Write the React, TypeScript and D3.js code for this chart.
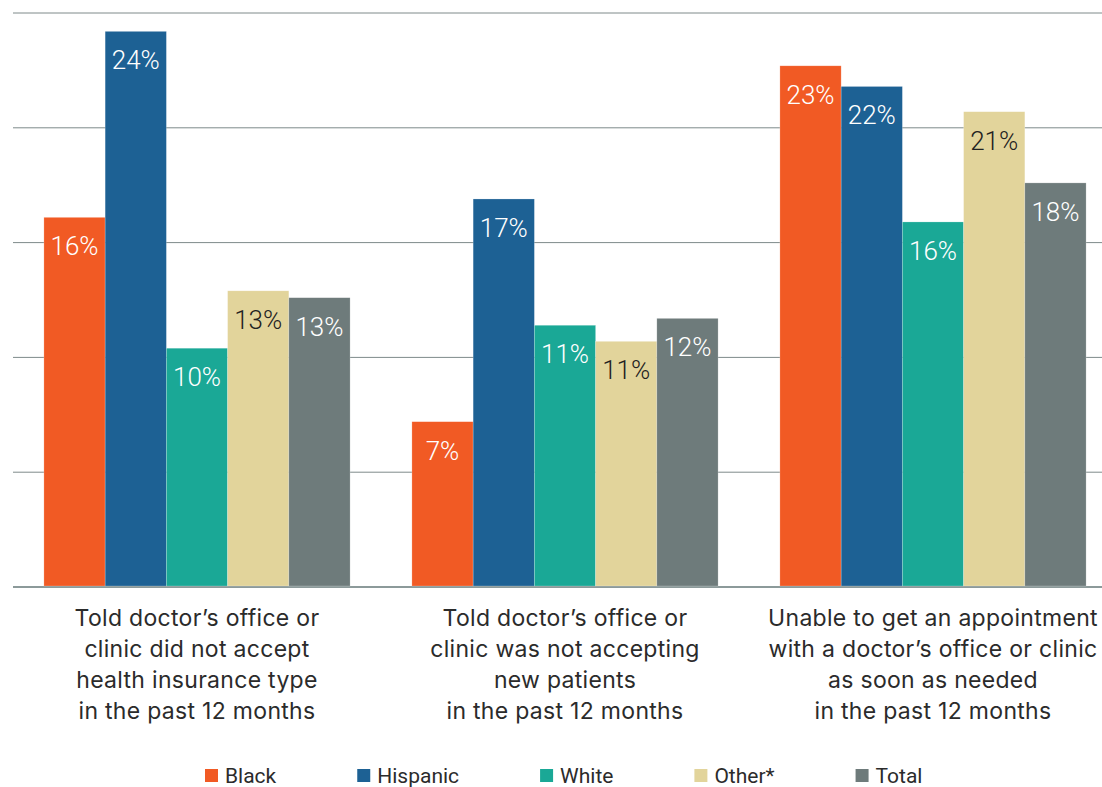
import React from 'react'
import { scaleBand, scaleLinear, range } from 'd3'

const width = 1102
const height = 787

// categories (x axis groups), each label split into lines
const groups = ['insurance', 'newPatients', 'appointment']
const groupLabels = [
  ['Told doctor\u2019s office or', 'clinic did not accept', 'health insurance type', 'in the past 12 months'],
  ['Told doctor\u2019s office or', 'clinic was not accepting', 'new patients', 'in the past 12 months'],
  ['Unable to get an appointment', 'with a doctor\u2019s office or clinic', 'as soon as needed', 'in the past 12 months'],
]

const seriesNames = ['Black', 'Hispanic', 'White', 'Other*', 'Total']
const seriesColors = ['#F15A24', '#1D6194', '#1AA896', '#E2D49B', '#6E7B7B']
const labelColors = ['#ffffff', '#ffffff', '#ffffff', '#222222', '#ffffff']

// percent values per series, in group order
const black = [16.1, 7.2, 22.7]
const hispanic = [24.2, 16.9, 21.8]
const white = [10.4, 11.4, 15.9]
const other = [12.9, 10.7, 20.7]
const total = [12.6, 11.7, 17.6]
const seriesValues = [black, hispanic, white, other, total]

const gridTicks = [0, 5, 10, 15, 20, 25]

function measure(text: string, font: string) {
  const c = document.createElement('canvas').getContext('2d')
  if (!c) return text.length * 10
  c.font = font
  return c.measureText(text).width
}

export default function App() {
  const x0 = scaleBand<string>()
    .domain(groups)
    .range([13, 1117])
    .paddingInner(0.168)
    .paddingOuter(0.084)
  const x1 = scaleBand<string>()
    .domain(seriesNames)
    .range([0, x0.bandwidth()])
  const y = scaleLinear().domain([0, 25]).range([587, 13])

  // legend layout: square + text, fixed gap between items
  const legendFont = '21px Roboto'
  const sq = 13
  const sqGap = 7
  const itemGap = 81
  const widths = seriesNames.map(n => sq + sqGap + measure(n, legendFont))
  const legendStart = 205
  const legendX = widths.map((_, i) => legendStart + range(i).reduce((a, j) => a + widths[j] + itemGap, 0))

  return (
    <svg width={width} height={height} style={{ position: 'absolute', left: 0, top: 0, background: '#fff' }}>
      {gridTicks.map(t => (
        <line
          key={t}
          x1={13}
          x2={1102}
          y1={y(t)}
          y2={y(t)}
          stroke={t === 0 ? '#8C9A9A' : '#7E8A8A'}
          strokeWidth={t === 0 ? 2 : 1}
        />
      ))}
      {groups.map((g, gi) => (
        <g key={g} transform={`translate(${x0(g)},0)`}>
          {seriesNames.map((s, si) => {
            const v = seriesValues[si][gi]
            const bx = x1(s) as number
            return (
              <g key={s}>
                <rect
                  x={bx}
                  y={y(v)}
                  width={x1.bandwidth()}
                  height={y(0) - y(v) - 1}
                  fill={seriesColors[si]}
                  stroke="#ffffff"
                  strokeOpacity={0.35}
                  strokeWidth={0.6}
                />
                <text
                  x={bx + x1.bandwidth() / 2}
                  y={y(v) + 38}
                  textAnchor="middle"
                  fontFamily="Roboto, sans-serif"
                  fontSize={26}
                  fontWeight={300}
                  fill={labelColors[si]}
                >
                  {Math.round(v)}%
                </text>
              </g>
            )
          })}
          <text
            x={x0.bandwidth() / 2}
            textAnchor="middle"
            fontFamily="Inter, sans-serif"
            fontSize={23}
            letterSpacing={0.3}
            fill="#2b2b2b"
          >
            {groupLabels[gi].map((line, li) => (
              <tspan key={li} x={x0.bandwidth() / 2} y={626 + li * 31}>
                {line}
              </tspan>
            ))}
          </text>
        </g>
      ))}
      {seriesNames.map((s, i) => (
        <g key={s} transform={`translate(${legendX[i]},0)`}>
          <rect x={0} y={769} width={sq} height={sq} fill={seriesColors[i]} />
          <text x={sq + sqGap} y={783} fontFamily="Roboto, sans-serif" fontSize={21} fill="#2b2b2b">
            {s}
          </text>
        </g>
      ))}
    </svg>
  )
}
